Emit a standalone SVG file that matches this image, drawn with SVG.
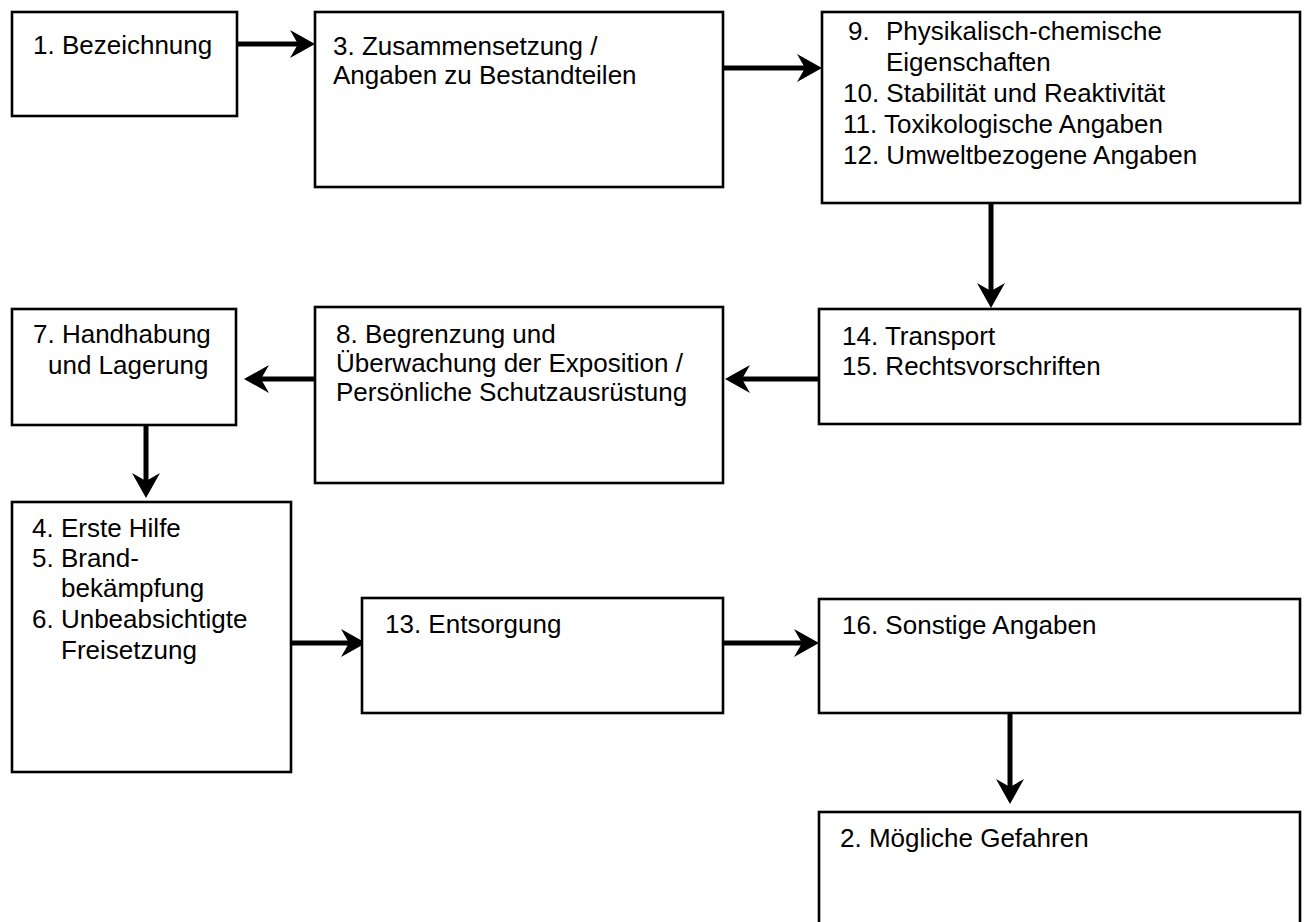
<svg xmlns="http://www.w3.org/2000/svg" width="1307" height="922" viewBox="0 0 1307 922">
<defs>
<style>
.box{fill:#fff;stroke:#000;stroke-width:2.6}
.t{font-family:"Liberation Sans",Arial,sans-serif;font-size:26px;fill:#000}
.c{fill:none;stroke:#000;stroke-width:5}
</style>
<marker id="ah" markerUnits="userSpaceOnUse" markerWidth="30" markerHeight="30" viewBox="0 -15 30 30" refX="10" refY="0" orient="auto" overflow="visible">
<path d="M0,-14 L25,0 L0,14 L8,0 Z" fill="#000"/>
</marker>
</defs>
<rect width="1307" height="922" fill="#fff"/>
<g id="connectors">
<line class="c" x1="237" y1="44" x2="300" y2="44" marker-end="url(#ah)"/>
<line class="c" x1="723" y1="68" x2="807" y2="68" marker-end="url(#ah)"/>
<line class="c" x1="991" y1="203" x2="991" y2="293" marker-end="url(#ah)"/>
<line class="c" x1="819" y1="379" x2="740" y2="379" marker-end="url(#ah)"/>
<line class="c" x1="318" y1="379" x2="259" y2="379" marker-end="url(#ah)"/>
<line class="c" x1="146" y1="425" x2="146" y2="483" marker-end="url(#ah)"/>
<line class="c" x1="291" y1="643" x2="351" y2="643" marker-end="url(#ah)"/>
<line class="c" x1="723" y1="643" x2="804" y2="643" marker-end="url(#ah)"/>
<line class="c" x1="1010" y1="713" x2="1010" y2="789" marker-end="url(#ah)"/>
</g>
<g id="n1"><rect class="box" x="12" y="12" width="225" height="104"/>
<text class="t" x="33" y="54">1. Bezeichnung</text></g>
<g id="n3"><rect class="box" x="315" y="12" width="408" height="175"/>
<text class="t" x="333" y="55">3. Zusammensetzung /</text>
<text class="t" x="333" y="84">Angaben zu Bestandteilen</text></g>
<g id="n9"><rect class="box" x="822" y="12" width="478" height="191"/>
<text class="t" x="848" y="40">9.</text><text class="t" x="886" y="40">Physikalisch-chemische</text>
<text class="t" x="886" y="71">Eigenschaften</text>
<text class="t" x="843" y="102">10. Stabilität und Reaktivität</text>
<text class="t" x="843" y="133">11. Toxikologische Angaben</text>
<text class="t" x="843" y="164">12. Umweltbezogene Angaben</text></g>
<g id="n7"><rect class="box" x="12" y="309" width="224" height="116"/>
<text class="t" x="33" y="343">7. Handhabung</text>
<text class="t" x="48" y="374">und Lagerung</text></g>
<g id="n8"><rect class="box" x="315" y="307" width="408" height="176"/>
<text class="t" x="336" y="343">8. Begrenzung und</text>
<text class="t" x="336" y="372">Überwachung der Exposition /</text>
<text class="t" x="336" y="401">Persönliche Schutzausrüstung</text></g>
<g id="n14"><rect class="box" x="819" y="309" width="481" height="115"/>
<text class="t" x="842" y="345">14. Transport</text>
<text class="t" x="842" y="375">15. Rechtsvorschriften</text></g>
<g id="n4"><rect class="box" x="12" y="502" width="279" height="270"/>
<text class="t" x="32" y="537">4. Erste Hilfe</text>
<text class="t" x="32" y="567">5. Brand-</text>
<text class="t" x="61" y="597">bekämpfung</text>
<text class="t" x="32" y="628">6. Unbeabsichtigte</text>
<text class="t" x="61" y="659">Freisetzung</text></g>
<g id="n13"><rect class="box" x="362" y="598" width="361" height="115"/>
<text class="t" x="385" y="633">13. Entsorgung</text></g>
<g id="n16"><rect class="box" x="819" y="599" width="481" height="114"/>
<text class="t" x="842" y="634">16. Sonstige Angaben</text></g>
<g id="n2"><rect class="box" x="819" y="812" width="481" height="120"/>
<text class="t" x="840" y="847">2. Mögliche Gefahren</text></g>
</svg>
